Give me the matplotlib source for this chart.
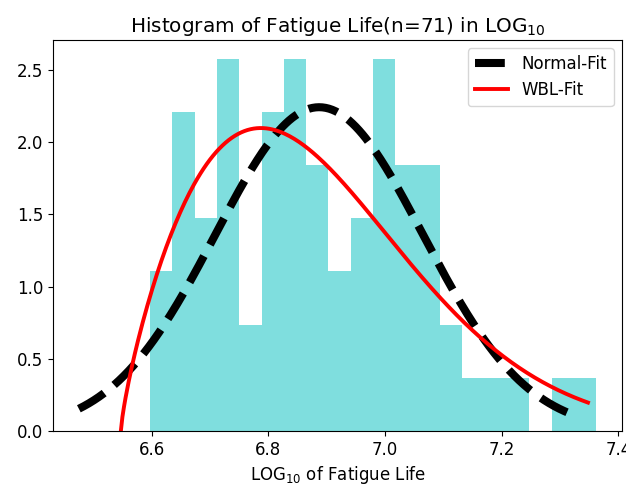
import numpy as np
import matplotlib
matplotlib.use("Agg")
import matplotlib.pyplot as plt

# histogram of log10 fatigue life, 71 specimens, 20 bins
n_samples = 71
data_min, data_max = 6.597, 7.362
n_bins = 20
bin_counts = [3, 6, 4, 7, 2, 6, 7, 5, 3, 4, 7, 5, 5, 2, 1, 1, 1, 0, 1, 1]

# fitted distributions (parameters)
norm_mu, norm_sigma = 6.887, 0.178
norm_x_range = (6.475, 7.33)
wbl_shape, wbl_loc, wbl_scale = 1.78, 6.547, 0.3815
wbl_x_range = (6.547, 7.348)

plt.rcParams['font.size'] = 12

edges = np.linspace(data_min, data_max, n_bins + 1)

x_norm = np.linspace(norm_x_range[0], norm_x_range[1], 300)
y_norm = np.exp(-0.5 * ((x_norm - norm_mu) / norm_sigma) ** 2) / (norm_sigma * np.sqrt(2 * np.pi))

x_wbl = np.linspace(wbl_x_range[0], wbl_x_range[1], 300)
t = (x_wbl - wbl_loc) / wbl_scale
y_wbl = (wbl_shape / wbl_scale) * t ** (wbl_shape - 1) * np.exp(-t ** wbl_shape)

fig = plt.figure(figsize=(6.26, 4.92), dpi=100)
ax = fig.add_axes([53 / 626, 61 / 492, 569 / 626, 391 / 492])

ax.hist(edges[:-1], bins=edges, weights=bin_counts, density=True, color='c', alpha=0.5)
ax.plot(x_norm, y_norm, 'k--', lw=5.8, label='Normal-Fit')
ax.plot(x_wbl, y_wbl, 'r-', lw=2.8, label='WBL-Fit')

ax.set_title('Histogram of Fatigue Life(n=71) in LOG$_{10}$')
ax.set_xlabel('LOG$_{10}$ of Fatigue Life')
ax.legend(loc='upper right')

fig.savefig('out.png', dpi=100)
